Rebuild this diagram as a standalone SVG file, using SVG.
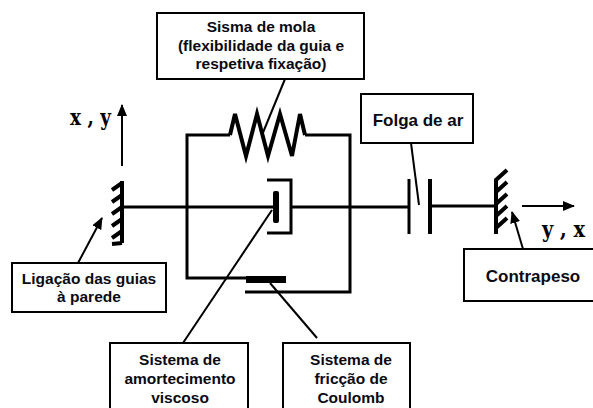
<svg xmlns="http://www.w3.org/2000/svg" width="593" height="408" viewBox="0 0 593 408">
<style>
.b{fill:#fff;stroke:#000;stroke-width:2}
.t{font:bold 15.5px "Liberation Sans",Arial,sans-serif;fill:#0a0a14;text-anchor:middle}
.w{font-size:17px}
.s{font:bold 22px "DejaVu Serif",serif;fill:#000}
.h{fill:none;stroke:#000;stroke-width:3;stroke-linejoin:miter}
.m{fill:none;stroke:#000;stroke-width:4}
.l{fill:none;stroke:#000;stroke-width:2}
</style>
<defs><marker id="a" viewBox="0 0 12 10" refX="11" refY="5" markerWidth="12" markerHeight="10" markerUnits="userSpaceOnUse" orient="auto"><path d="M0 0L12 5L0 10z" fill="#000"/></marker></defs>
<g id="connectors">
<path class="h" d="M246 278H187V135H230M305 135H350V292H245"/>
<path class="m" d="M230 135L235 114L246 156L257 114L268 156L280 114L292 156L300 114L305 135"/>
<path class="h" d="M123 207H274M291 207H408M430 206H495"/>
<path class="l" d="M285 79L262 135"/>
<path class="l" d="M411 143L419 205"/>
<path class="l" d="M78 263L102 218" marker-end="url(#a)"/>
<path class="l" d="M523 249L512 212" marker-end="url(#a)"/>
<path class="l" d="M183 343L272 210"/>
<path class="l" d="M317 338L270 283"/>
<path class="l" d="M122 166V105" marker-end="url(#a)"/>
<path class="l" d="M522 206H574" marker-end="url(#a)"/>
</g>
<g id="wall-left"><path class="m" d="M122 181V243M122 183L112 190M122 195L112 202M122 207L112 214M122 219L112 226M122 231L112 238M122 243L112 244"/></g>
<g id="wall-right"><path class="m" d="M496 234V180L507 170M496 192L507 182M496 204L507 194M496 216L507 206M496 228L507 218"/></g>
<g id="damper"><rect x="273" y="191" width="6" height="32" rx="2"/><path class="h" d="M267 180H291V233H267"/></g>
<g id="friction"><rect x="246" y="276" width="40" height="7"/></g>
<g id="gap"><path class="h" d="M409 179V234"/><path class="m" d="M430 179V234"/></g>
<g id="sisma"><rect class="b" x="157" y="13" width="207" height="66"/><text class="t" x="261" y="32">Sisma de mola</text><text class="t" x="261" y="51">(flexibilidade da guia e</text><text class="t" x="261" y="69">respetiva fixação)</text></g>
<g id="ligacao"><rect class="b" x="12" y="263" width="154" height="49"/><text class="t" x="89" y="284">Ligação das guias</text><text class="t" x="89" y="302">à parede</text></g>
<g id="folga"><rect class="b" x="361" y="94" width="112" height="49"/><text class="t w" x="418" y="126">Folga de ar</text></g>
<g id="contrapeso"><rect class="b" x="464" y="249" width="130" height="52"/><text class="t w" x="533" y="282">Contrapeso</text></g>
<g id="amortecimento"><rect class="b" x="110" y="343" width="138" height="70"/><text class="t" x="180" y="365">Sistema de</text><text class="t" x="180" y="384">amortecimento</text><text class="t" x="180" y="403">viscoso</text></g>
<g id="friccao"><rect class="b" x="283" y="343" width="127" height="70"/><text class="t" x="351" y="365">Sistema de</text><text class="t" x="351" y="384">fricção de</text><text class="t" x="351" y="403">Coulomb</text></g>
<text class="s" x="70" y="125" textLength="41" lengthAdjust="spacingAndGlyphs">x , y</text>
<text class="s" x="542" y="237" textLength="43" lengthAdjust="spacingAndGlyphs">y , x</text>
</svg>
